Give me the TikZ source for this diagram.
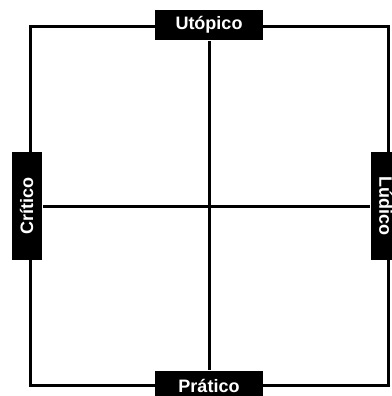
\documentclass[tikz,border=0pt]{standalone}
\usepackage{fontspec}
\setmainfont{Liberation Sans}
\begin{document}
\begin{tikzpicture}[x=1pt, y=-1pt, line width=3pt,
    rotulo/.style={fill=black, text=white, font=\bfseries\fontsize{18}{18}\selectfont,
      inner sep=0pt, minimum width=108pt, minimum height=30pt}]
    \useasboundingbox (0,0) rectangle (391,396);

    % 枠
    \coordinate (no) at (30,26.5);
    \coordinate (se) at (388,385.5);
    \draw (no) rectangle (se);

    % ラベル
    \node[rotulo] (utopico) at (209,25) {Utópico};
    \node[rotulo] (pratico) at (209,386) {Prático};
    \node[rotulo, rotate=90] (critico) at (26.5,206) {Crítico};
    \node[rotulo, rotate=-90] (ludico) at (386,206) {Lúdico};

    % 軸
    \draw (utopico) -- (pratico);
    \draw (critico) -- (ludico);
\end{tikzpicture}
\end{document}
